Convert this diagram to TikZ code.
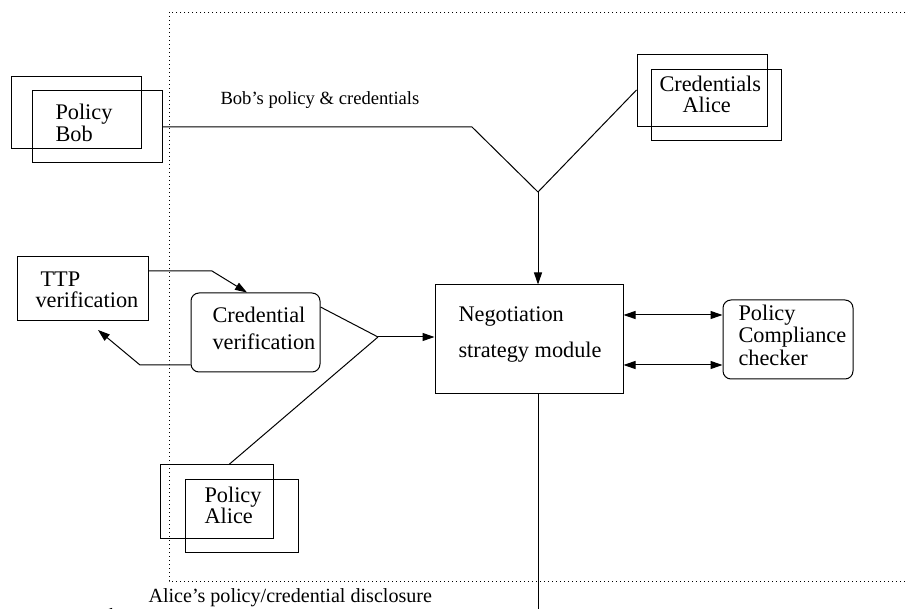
\documentclass[tikz,border=0pt]{standalone}
\usepackage{fontspec}
\setmainfont{Liberation Serif}
\usetikzlibrary{arrows.meta}
\begin{document}
\begin{tikzpicture}[x=1pt,y=-1pt,
  line width=1pt,
  box/.style={draw, rectangle, inner sep=0pt, minimum width=#1},
  rbox/.style={draw, rectangle, rounded corners=8pt, inner sep=0pt},
  txt/.style={anchor=base west, inner sep=0pt, font=\fontsize{22.3}{22}\selectfont},
  lbl/.style={anchor=base west, inner sep=0pt, font=\fontsize{18.6}{20}\selectfont},
  lblb/.style={anchor=base west, inner sep=0pt, font=\fontsize{20.1}{20}\selectfont},
  arr/.style={-{Triangle[length=12pt,width=8pt]}},
  darr/.style={{Triangle[length=12pt,width=8pt]}-{Triangle[length=12pt,width=8pt]}},
  frame/.style={line width=0.8pt, dash pattern=on 1pt off 3pt}]
\useasboundingbox (0,0) rectangle (908,609);
\clip (0,0) rectangle (908,609);
% dotted frame
\coordinate (f1) at (905,12);
\coordinate (f2) at (169,12);
\coordinate (f3) at (169,581);
\coordinate (f4) at (905,581);
\draw[frame] (f1) -- (f2) -- (f3) -- (f4);
% Policy Bob
\node[box=130pt, minimum height=72pt] (bobB) at (76,113) {};
\node[box=130pt, minimum height=72pt] (bobF) at (97,127) {};
\node[txt] (t1) at (55,120) {Policy};
\node[txt] (t2) at (55,142) {Bob};
% Credentials Alice
\node[box=130pt, minimum height=72pt] (caB) at (702,91) {};
\node[box=130pt, minimum height=71pt] (caF) at (716,105.5) {};
\node[txt] (t3) at (659,92) {Credentials};
\node[txt] (t4) at (682,113) {Alice};
% Policy Alice
\node[box=113pt, minimum height=73pt] (paB) at (216.5,501.5) {};
\node[box=113pt, minimum height=72pt] (paF) at (241.5,516) {};
\node[txt] (t5) at (204,502) {Policy};
\node[txt] (t6) at (204,523) {Alice};
% Negotiation
\node[box=188pt, minimum height=109pt] (neg) at (529,339.5) {};
\node[txt] (t7) at (458,322) {Negotiation};
\node[txt] (t8) at (458,358) {strategy module};
% Policy compliance checker
\node[rbox, minimum width=130pt, minimum height=79pt] (pcc) at (788,339.5) {};
\node[txt] (t9) at (738,321) {Policy};
\node[txt] (t10) at (738,343) {Compliance};
\node[txt] (t11) at (738,366) {checker};
% TTP
\node[box=131pt, minimum height=64pt] (ttp) at (82.5,289) {};
\node[txt] (t12) at (40,287) {TTP};
\node[txt] (t13) at (35,308) {verification};
% Credential verification
\node[rbox, minimum width=129pt, minimum height=79pt] (cv) at (255.5,332.5) {};
\node[txt] (t14) at (212,323) {Credential};
\node[txt] (t15) at (212,350) {verification};
% labels
\node[lbl] (l1) at (220,105) {Bob’s policy \& credentials};
\node[lblb] (l2) at (148,602) {Alice’s policy/credential disclosure};
% junctions and bends
\coordinate (J1) at (538,192);
\coordinate (b1) at (472,127);
\coordinate (J2) at (378,337);
\coordinate (b2) at (212,271);
\coordinate (b3) at (140,365);
\coordinate (e3) at (98,330);
\coordinate (b4) at (538,612);
\coordinate (e4) at (100,612);
% connectors
\draw (bobF.east) -- (b1) -- (J1);
\draw ([yshift=1pt]caB.west) -- (J1);
\draw[arr] (J1) -- (J1 |- neg.north);
\draw[arr] (ttp.east |- b2) -- (b2) -- ([xshift=-8.5pt]cv.north);
\draw[arr] ([yshift=-32.5pt]cv.west) -- (b3) -- (e3);
\draw ([yshift=25.5pt]cv.east) -- (J2);
\draw ([xshift=12.5pt]paB.north) -- (J2);
\draw[arr] (J2) -- (J2 -| neg.west);
\draw[darr] ([yshift=24.5pt]neg.east) -- ([yshift=24.5pt]neg.east -| pcc.west);
\draw[darr] ([yshift=-25.5pt]neg.east) -- ([yshift=-25.5pt]neg.east -| pcc.west);
\draw[arr] (neg.south -| J1) -- (b4) -- (e4);
\end{tikzpicture}
\end{document}
